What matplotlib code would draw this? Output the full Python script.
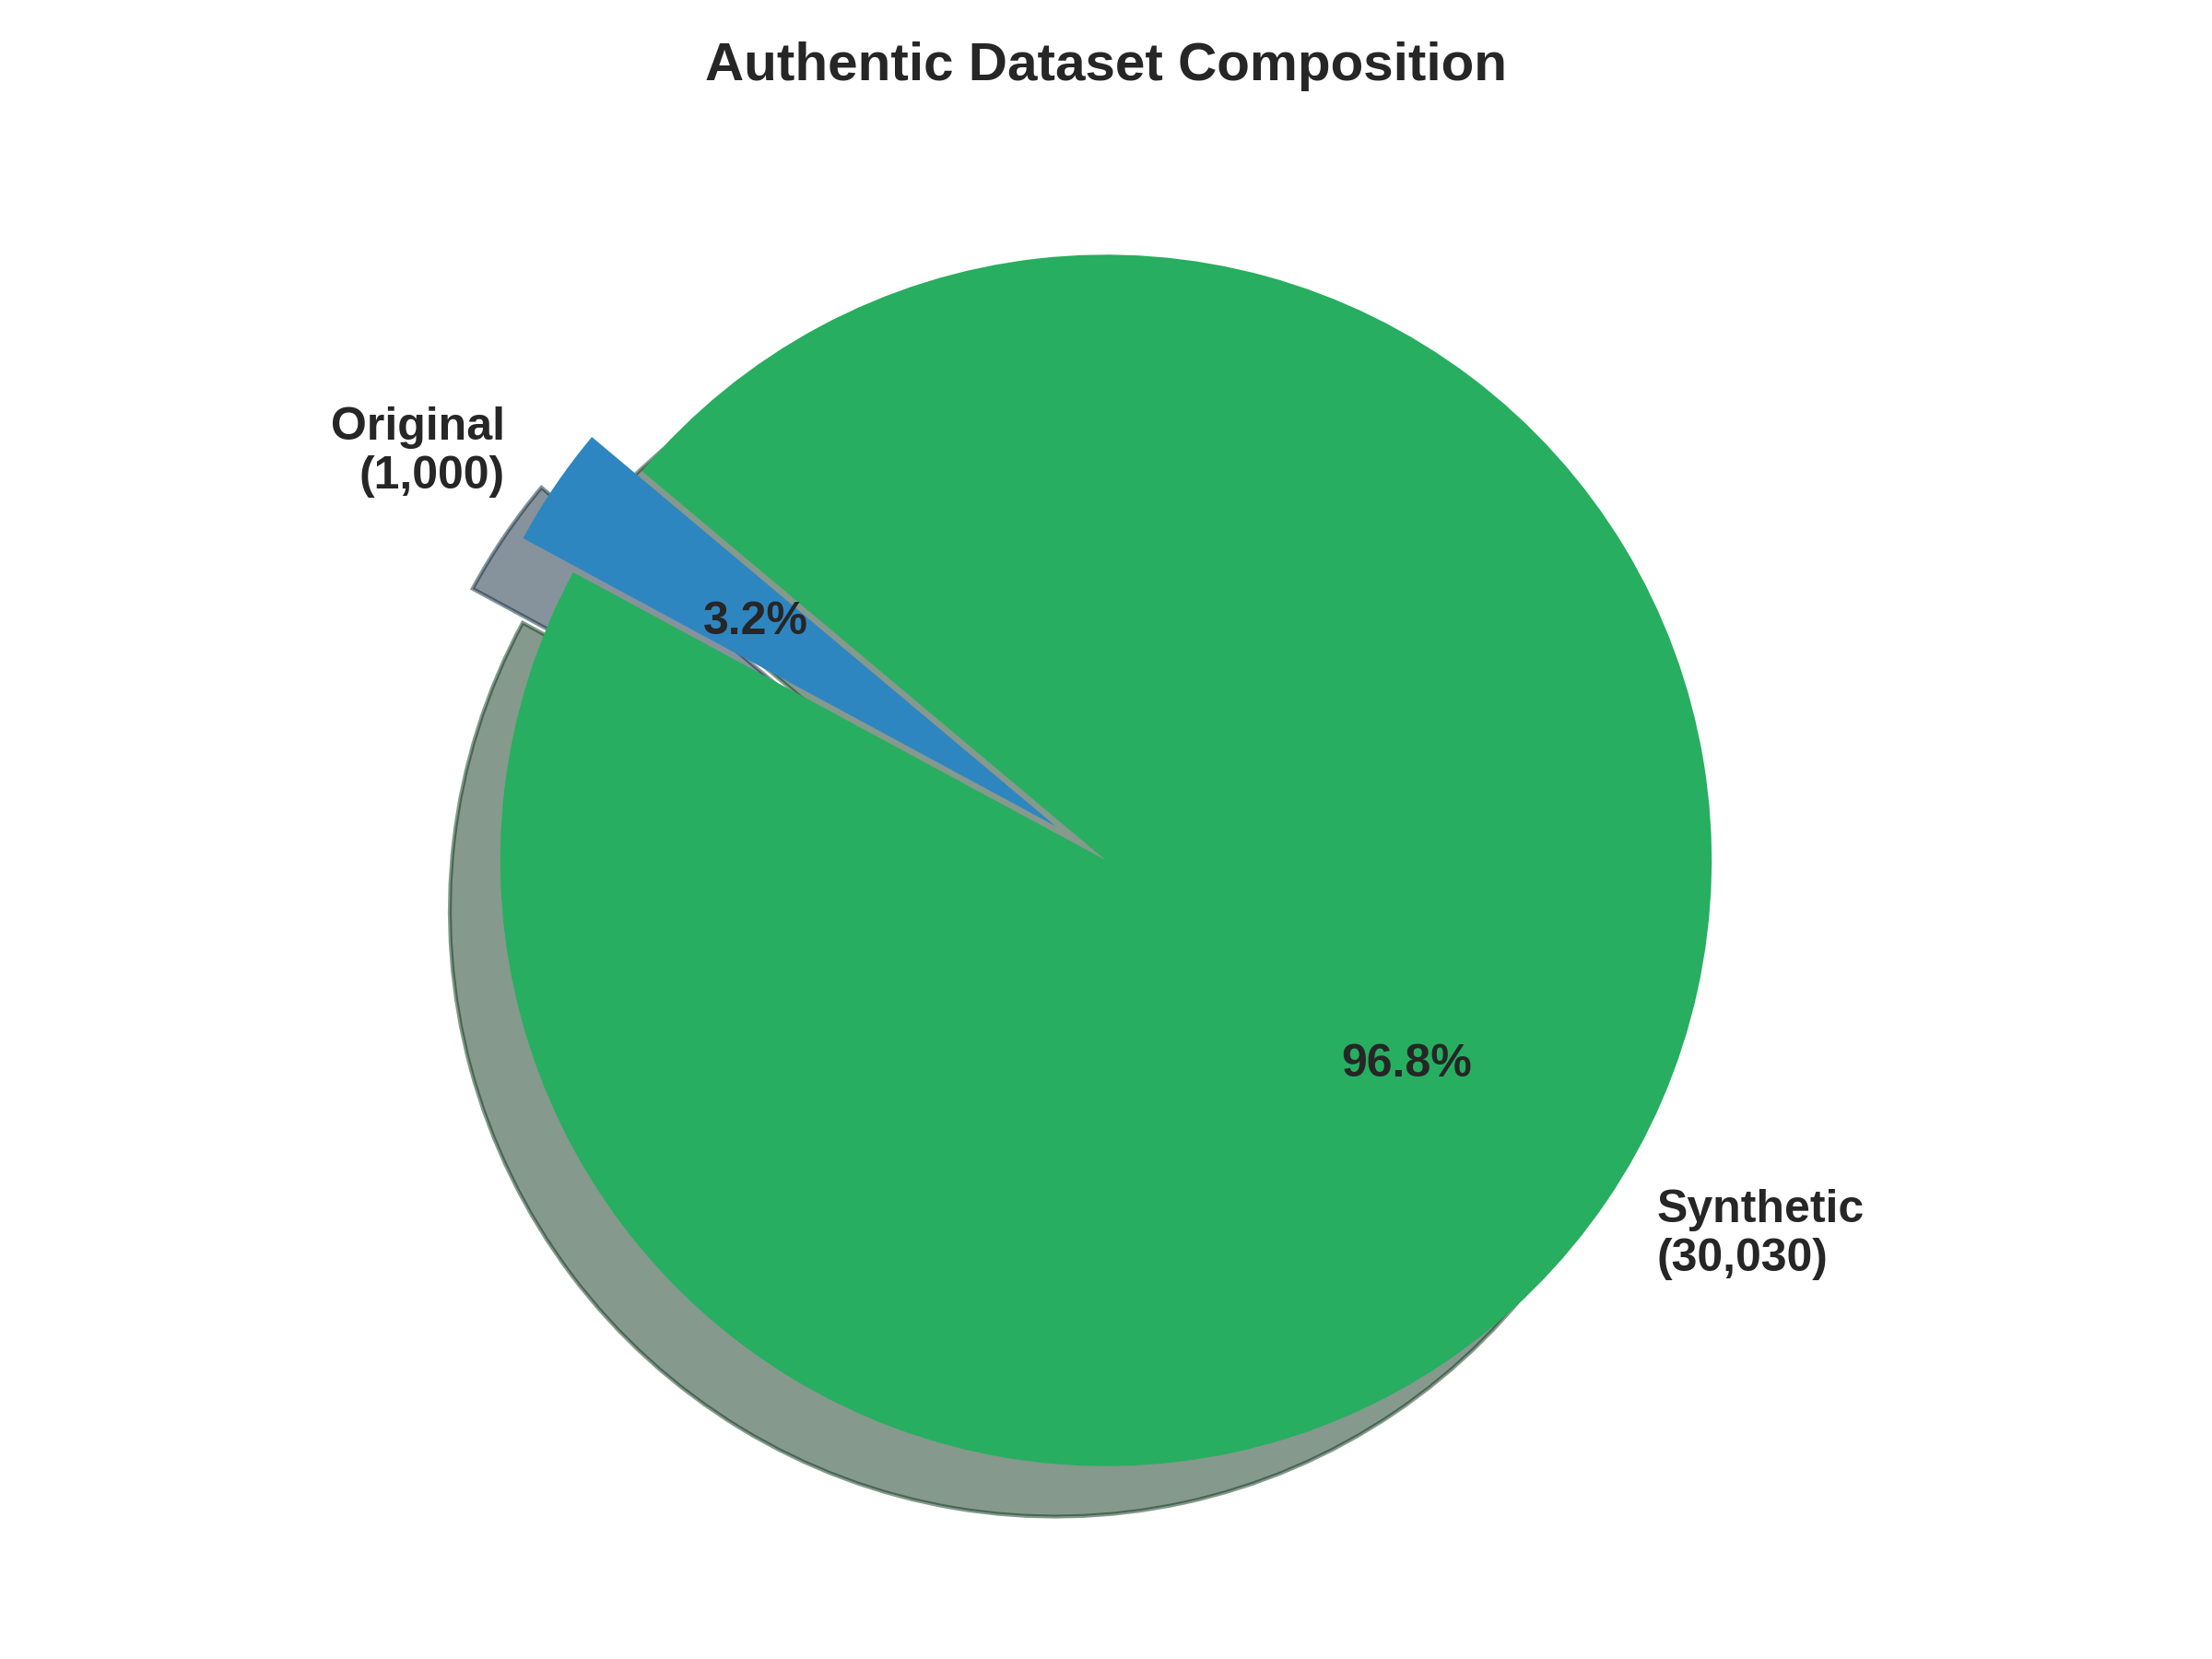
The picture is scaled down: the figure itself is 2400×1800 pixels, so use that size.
import matplotlib
matplotlib.use("Agg")
import matplotlib.pyplot as plt

categories = ["Original", "Synthetic"]
counts = [1000, 30030]
colors = ["#2E86C1", "#27AE60"]
explode = [0.1, 0.0]

plt.rcParams['font.family'] = ['Liberation Sans', 'DejaVu Sans']
plt.rcParams['text.color'] = '#262626'

fig, ax = plt.subplots(figsize=(8, 6), dpi=300)
labels = [f"{c}\n({v:,})" for c, v in zip(categories, counts)]
wedges, texts, autotexts = ax.pie(
    counts, labels=labels, colors=colors, explode=explode,
    autopct='%1.1f%%', startangle=140, shadow=True,
    textprops=dict(fontsize=12, fontweight='bold', color='#262626'))
ax.set_title("Authentic Dataset Composition", fontsize=14, fontweight='bold')
plt.tight_layout()
fig.savefig("out.png", dpi=300)
